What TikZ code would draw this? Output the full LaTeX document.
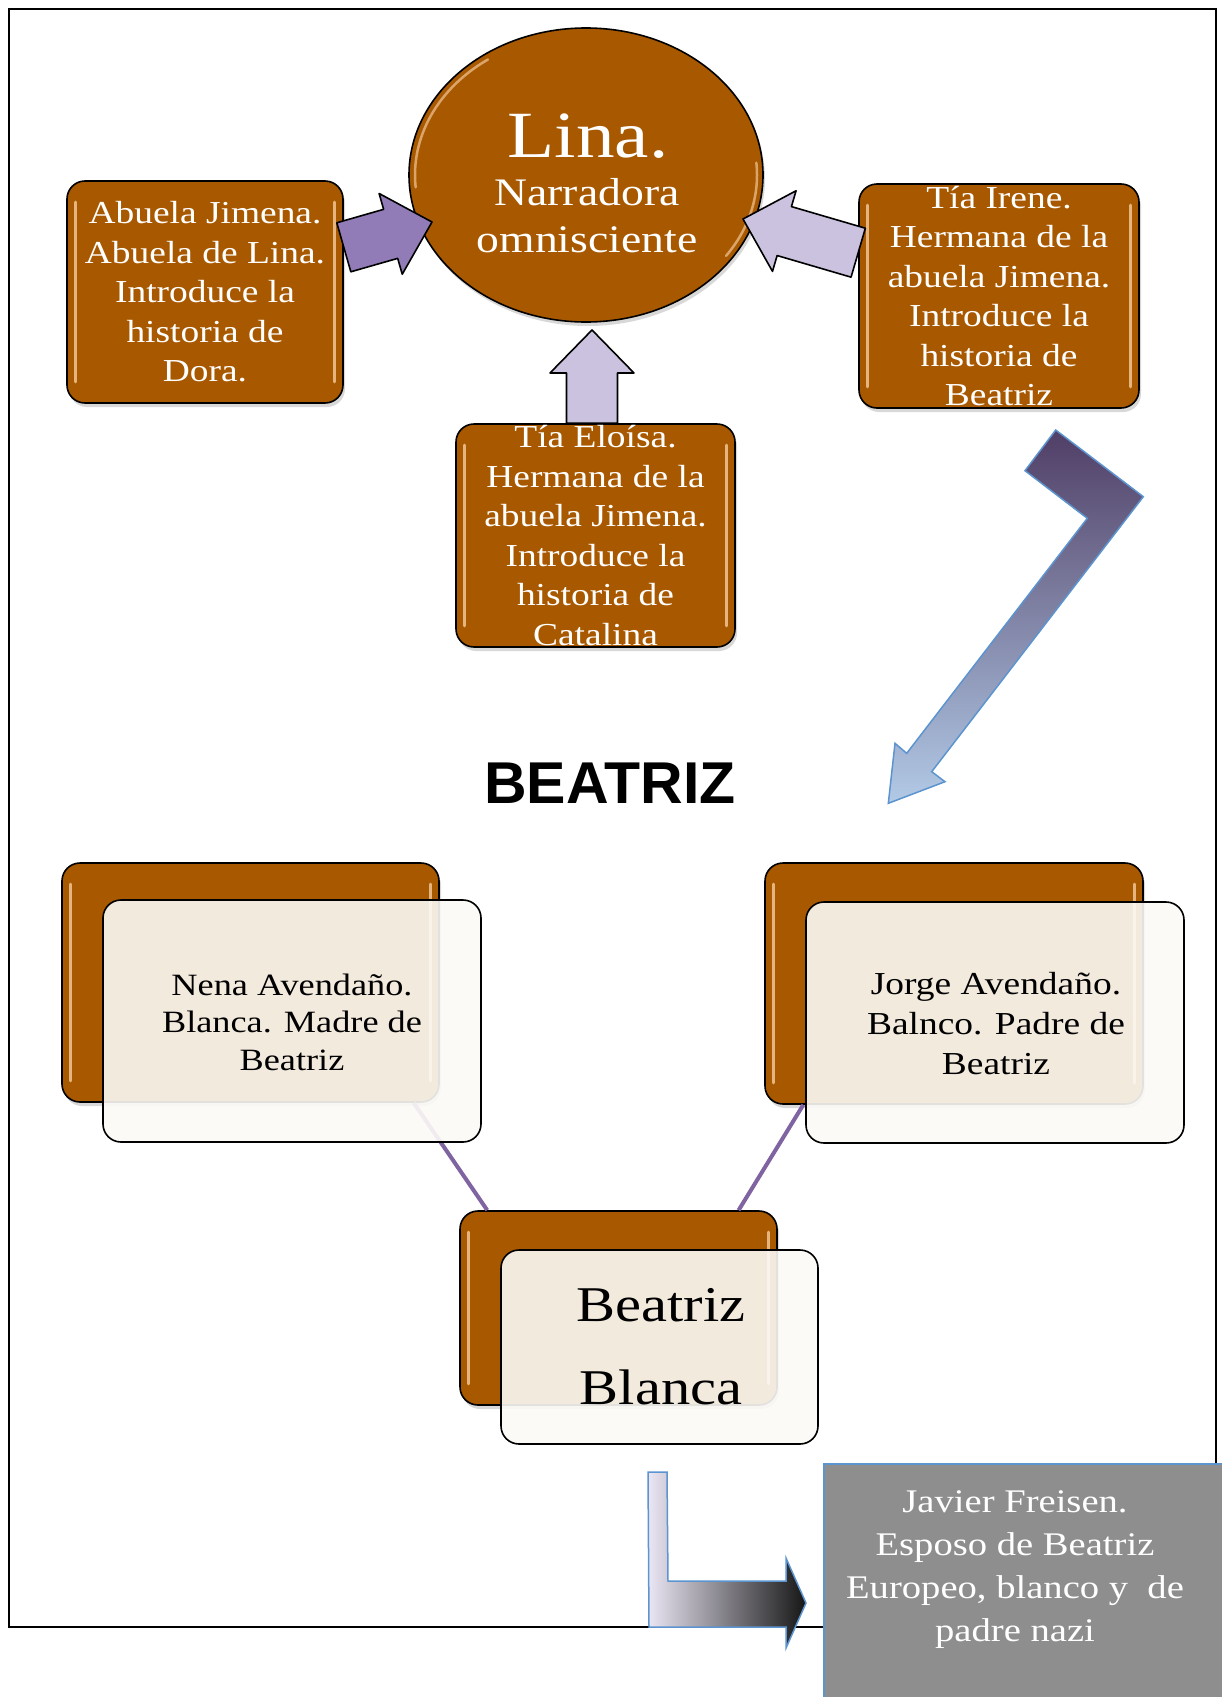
\documentclass[tikz,border=0pt]{standalone}
\usepackage{fontspec}
\setmainfont{Liberation Serif}[FakeStretch=1.17]
\newfontfamily\arialfont{Liberation Sans}
\usetikzlibrary{calc,shadows,shapes.geometric}
\definecolor{brownc}{RGB}{168,89,0}
\definecolor{glossc}{RGB}{242,196,150}
\definecolor{purpA}{RGB}{146,124,184}
\definecolor{purpB}{RGB}{202,194,222}
\definecolor{linec}{RGB}{128,100,162}
\definecolor{creamc}{RGB}{252,250,247}
\definecolor{bluec}{RGB}{92,148,208}
\definecolor{darkpurp}{RGB}{80,62,102}
\definecolor{lightblue}{RGB}{178,202,230}
\definecolor{grayc}{RGB}{142,142,142}
\definecolor{lavc}{RGB}{234,230,244}
\definecolor{nearblack}{RGB}{22,22,22}
\newcommand\blockarrow[3]{%
  \coordinate (ba-h) at ($(#3)!43pt!(#2)$);
  \path[#1] ($(#2)!25.5pt!90:(#3)$) -- ($(ba-h)!25.5pt!-90:(#2)$) -- ($(ba-h)!42pt!-90:(#2)$) -- (#3)
    -- ($(ba-h)!42pt!90:(#2)$) -- ($(ba-h)!25.5pt!90:(#2)$) -- ($(#2)!25.5pt!-90:(#3)$) -- cycle;}
\newcommand\glossbox[1]{%
  \draw[gloss] ([shift={(9,22)}]#1.north west) -- ([shift={(9,-22)}]#1.south west);
  \draw[gloss] ([shift={(-9,22)}]#1.north east) -- ([shift={(-9,-22)}]#1.south east);}
\begin{document}
\begin{tikzpicture}[x=1pt,y=-1pt,
  brownbox/.style={rectangle, rounded corners=18pt, fill=brownc, draw=black, line width=1.6pt,
    inner sep=0pt, drop shadow={shadow xshift=2pt, shadow yshift=-4pt, opacity=.3}},
  creambox/.style={rectangle, rounded corners=18pt, fill=creamc, fill opacity=.9, draw=black,
    line width=1.6pt, inner sep=0pt},
  gloss/.style={draw=glossc, line width=3pt, line cap=round, opacity=.85},
  boxtext/.style={text=white, align=center, inner sep=0pt, font=\fontsize{32}{39.5}\selectfont},
  darktext/.style={text=black, align=center, inner sep=0pt},
  arrowA/.style={fill=purpA, draw=black, line width=1.6pt, line join=round},
  arrowB/.style={fill=purpB, draw=black, line width=1.6pt, line join=round},
  link/.style={draw=linec, line width=4pt}]
\path[use as bounding box, fill=white] (0,0) rectangle (1222,1697);
\node[draw=black, line width=2pt, minimum width=1207pt, minimum height=1618pt, inner sep=0pt] (frame) at (612.5,818) {};

% top: Lina
\node[ellipse, fill=brownc, draw=black, line width=1.6pt, minimum width=354pt, minimum height=294pt,
  inner sep=0pt, drop shadow={shadow xshift=2pt, shadow yshift=-4pt, opacity=.3}] (lina) at (586,175) {};
\draw[gloss, line width=2.5pt, opacity=.7] ($(lina.center)+(175:171 and 141)$) arc (175:235:171 and 141);
\draw[gloss, line width=2.5pt, opacity=.7] ($(lina.center)+(-5:171 and 141)$) arc (-5:35:171 and 141);
\node[text=white, anchor=base, inner sep=0pt, font=\fontsize{66}{66}\selectfont] (linat) at (588,157) {Lina.};
\node[text=white, anchor=base, inner sep=0pt, font=\fontsize{39}{47}\selectfont] (narr) at (587,205) {Narradora};
\node[text=white, anchor=base, inner sep=0pt, font=\fontsize{39}{47}\selectfont] (omni) at (587,252) {omnisciente};

% boxes
\node[brownbox, minimum width=276pt, minimum height=222pt] (abuela) at (205,292) {};
\node[brownbox, minimum width=279pt, minimum height=223pt] (eloisa) at (595.5,535.5) {};
\node[brownbox, minimum width=280pt, minimum height=224pt] (irene) at (999,296) {};
\glossbox{abuela}\glossbox{eloisa}\glossbox{irene}

% block arrows
\coordinate (tipL) at (432,222);
\coordinate (tipR) at (743,219);
\coordinate (tipU) at (592,330);
\coordinate (baseL) at ($(abuela.north east)!0.3!(abuela.south east)$);
\coordinate (baseR) at ($(irene.north west)!0.308!(irene.south west)$);
\coordinate (baseU) at ([xshift=-3.5pt]eloisa.north);
\blockarrow{arrowA}{baseL}{tipL}
\blockarrow{arrowB}{baseR}{tipR}
\blockarrow{arrowB}{baseU}{tipU}

\node[boxtext] (abuelat) at (abuela.center) {Abuela Jimena.\\Abuela de Lina.\\Introduce la\\historia de\\Dora.};
\node[boxtext] (eloisat) at (eloisa.center) {Tía Eloísa.\\Hermana de la\\abuela Jimena.\\Introduce la\\historia de\\Catalina};
\node[boxtext] (irenet) at (irene.center) {Tía Irene.\\Hermana de la\\abuela Jimena.\\Introduce la\\historia de\\Beatriz};

% big bent arrow
\path[draw=bluec, line width=1.5pt, line join=miter, top color=darkpurp, bottom color=lightblue]
  (1055.7,430) -- (1143.3,496.7) -- (931.7,771.7) -- (945,781.7) -- (888.3,803.3)
  -- (895,743.3) -- (906.7,753.3) -- (1087.3,518.3) -- (1025,470.7) -- cycle;

% title
\node[inner sep=0pt, font=\arialfont\bfseries\fontsize{59}{59}\selectfont] (title) at (610,783) {BEATRIZ};

% family boxes
\node[brownbox, minimum width=377pt, minimum height=239pt] (nenad) at (250.5,982.5) {};
\node[brownbox, minimum width=378pt, minimum height=241pt] (jorged) at (954,983.5) {};
\node[brownbox, minimum width=317pt, minimum height=194pt] (beatd) at (618.5,1308) {};
\glossbox{nenad}\glossbox{jorged}\glossbox{beatd}
\draw[link] ($(nenad.south west)!0.931!(nenad.south east)$) -- ($(beatd.north west)!0.088!(beatd.north east)$);
\draw[link] ($(jorged.south west)!0.103!(jorged.south east)$) -- ($(beatd.north west)!0.877!(beatd.north east)$);
\node[creambox, minimum width=378pt, minimum height=242pt] (nenac) at (292,1021) {};
\node[creambox, minimum width=378pt, minimum height=241pt] (jorgec) at (995,1022.5) {};
\node[creambox, minimum width=317pt, minimum height=194pt] (beatc) at (659.5,1347) {};
\node[darktext, font=\fontsize{31}{37.5}\selectfont] (nenat) at (292,1022) {Nena Avendaño.\\Blanca. Madre de\\Beatriz};
\node[darktext, font=\fontsize{32}{40}\selectfont] (jorget) at (996,1024) {Jorge Avendaño.\\Balnco. Padre de\\Beatriz};
\node[darktext, font=\fontsize{50}{83}\selectfont] (beatt) at (661,1347) {Beatriz\\Blanca};

% L arrow and Javier
\path[draw=bluec, line width=1.5pt, line join=miter, left color=lavc, right color=nearblack]
  (648,1472) -- (667,1472) -- (668,1581) -- (786,1581) -- (786,1558) -- (806,1603)
  -- (786,1648) -- (786,1627) -- (649,1627) -- cycle;
\node[anchor=north west, fill=grayc, draw=bluec, line width=2pt, minimum width=420pt,
  minimum height=260pt, inner sep=0pt] (javier) at (823,1463) {};
\node[text=white, align=center, inner sep=0pt, font=\fontsize{33}{43}\selectfont] (javiert) at (1015,1570)
  {Javier Freisen.\\Esposo de Beatriz\\Europeo, blanco y\ \ de\\padre nazi};
\end{tikzpicture}
\end{document}
